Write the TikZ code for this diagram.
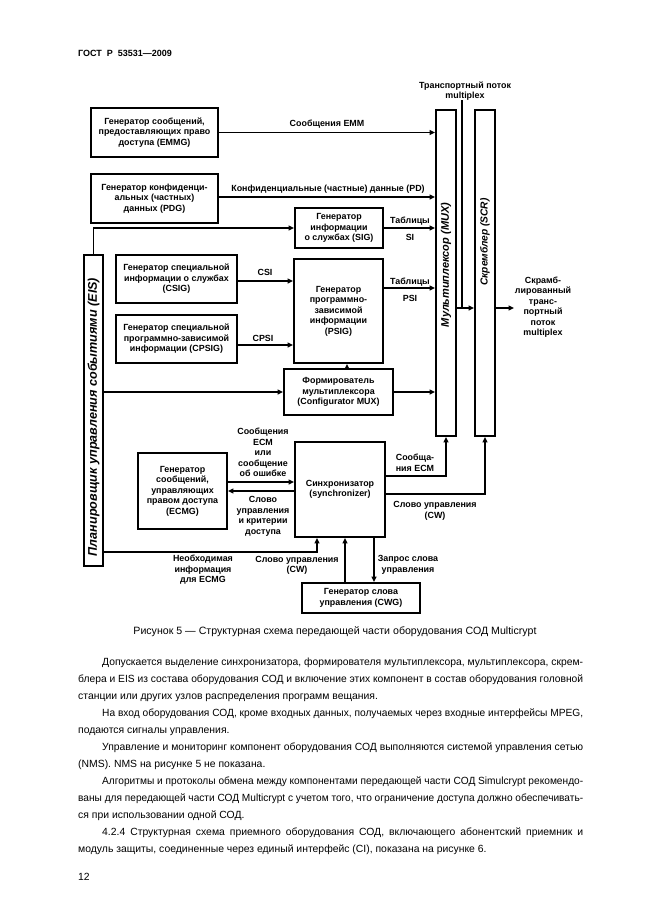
\documentclass[tikz,border=0pt]{standalone}
\usepackage{fontspec}
\setmainfont{Liberation Sans}
\usetikzlibrary{arrows.meta}
\newcommand{\dgmfont}{\fontsize{8.9}{10.5}\selectfont\bfseries}
\newcommand{\rotfont}{\fontsize{11}{12}\selectfont\bfseries\itshape}
\newcommand{\txtfont}{\fontsize{10.4}{17}\selectfont}
\newcommand{\jline}[2]{\sbox0{#2}\ifdim\wd0>#1\relax\resizebox{#1}{\height}{#2}\else\makebox[#1][s]{#2}\fi}
\begin{document}
\begin{tikzpicture}[x=1pt,y=-1pt,
  box/.style={draw,line width=1.9pt,inner sep=0pt,align=center,font=\dgmfont},
  conn/.style={line width=1.6pt},
  arr/.style={conn,-{Triangle[length=5.5pt,width=5pt]}},
  lbl/.style={font=\dgmfont,align=center,inner sep=0pt},
  vtext/.style={font=\rotfont,rotate=90,inner sep=0pt},
  body/.style={anchor=base west,inner sep=0pt,font=\txtfont},
]
\useasboundingbox[fill=white] (0,0) rectangle (646,913);

% header
\node[anchor=base west,inner sep=0pt,font=\fontsize{9}{11}\selectfont\bfseries] (hdr) at (78,56) {ГОСТ\ \ Р\ \ 53531—2009};

% boxes
\node[box,minimum width=127pt,minimum height=49pt] (emmg) at (154.5,132.5) {Генератор сообщений,\\предоставляющих право\\доступа (EMMG)};
\node[box,minimum width=127pt,minimum height=49pt] (pdg) at (154.5,198.5) {Генератор конфиденци-\\альных (частных)\\данных (PDG)};
\node[box,minimum width=88pt,minimum height=40pt] (sig) at (339,228) {Генератор\\информации\\о службах (SIG)};
\node[box,minimum width=89pt,minimum height=104pt] (psig) at (338.5,311) {Генератор\\программно-\\зависимой\\информации\\(PSIG)};
\node[box,minimum width=121pt,minimum height=48pt] (csig) at (176.5,279) {Генератор специальной\\информации о службах\\(CSIG)};
\node[box,minimum width=121pt,minimum height=48pt] (cpsig) at (176.5,339) {Генератор специальной\\программно-зависимой\\информации (CPSIG)};
\node[box,minimum width=109pt,minimum height=46pt] (conf) at (338.5,392) {Формирователь\\мультиплексора\\(Configurator MUX)};
\node[box,minimum width=20pt,minimum height=326pt] (mux) at (446,273) {};
\node[box,minimum width=20pt,minimum height=326pt] (scr) at (485,273) {};
\node[box,minimum width=19pt,minimum height=311pt] (eis) at (93.5,410.5) {};
\node[box,minimum width=90pt,minimum height=95pt] (sync) at (340,489.5) {Синхронизатор\\(synchronizer)};
\node[box,minimum width=118pt,minimum height=30pt] (cwg) at (361,598) {Генератор слова\\управления (CWG)};
\node[box,minimum width=89pt,minimum height=76pt] (ecmg) at (182.5,491) {Генератор\\сообщений,\\управляющих\\правом доступа\\(ECMG)};

% rotated texts
\node[vtext,font=\fontsize{12.6}{13}\selectfont\bfseries\itshape] (eist) at (93.5,417) {Планировщик управления событиями (EIS)};
\node[vtext] (muxt) at (446,265) {Мультиплексор (MUX)};
\node[vtext,font=\fontsize{10.2}{12}\selectfont\bfseries\itshape] (scrt) at (485,242) {Скремблер (SCR)};

% connectors
\draw[arr] (emmg.east) -- (mux.west |- emmg.east);
\draw[arr] (pdg.east |- 0,197) -- (mux.west |- 0,197);
\draw[arr] (eis.north) |- (sig.west);
\draw[arr] (sig.east) -- (mux.west |- sig.east);
\draw[arr] (psig.east |- 0,288) -- (mux.west |- 0,288);
\draw[arr] (csig.east |- 0,281) -- (psig.west |- 0,281);
\draw[arr] (cpsig.east |- 0,345) -- (psig.west |- 0,345);
\draw[arr] (conf.north -| 347,0) -- (psig.south -| 347,0);
\draw[arr] (eis.east |- conf.west) -- (conf.west);
\draw[arr] (conf.east) -- (mux.west |- conf.east);

\coordinate (j) at (462,308);
\coordinate (outp) at (514,308);
\draw[arr] (mux.east |- j) -- (scr.west |- j);
\draw[arr] (scr.east |- j) -- (outp);
\node[lbl,font=\fontsize{8.9}{9.5}\selectfont\bfseries] (tpl) at (465,91) {Транспортный поток\\multiplex};
\draw[conn] (tpl.south -| j) -- (j);

\draw[arr] (sync.east |- 0,476) -| (mux.south);
\draw[arr] (sync.east |- 0,494) -| (scr.south);
\draw[arr] (cwg.north -| 345,0) -- (sync.south -| 345,0);
\draw[arr] (sync.south -| 374,0) -- (cwg.north -| 374,0);
\draw[arr] (eis.east |- 0,552) -| (sync.south -| 317,0);
\draw[arr] (ecmg.east |- 0,482) -- (sync.west |- 0,482);
\draw[arr] (sync.west |- 0,491) -- (ecmg.east |- 0,491);

% labels
\node[lbl] (l1) at (327,124) {Сообщения EMM};
\node[lbl] (l2) at (328,189) {Конфиденциальные (частные) данные (PD)};
\node[lbl] (l3a) at (410,221) {Таблицы};
\node[lbl] (l3b) at (410,237) {SI};
\node[lbl] (l4a) at (410,282) {Таблицы};
\node[lbl] (l4b) at (410,298) {PSI};
\node[lbl] (l5) at (265,272) {CSI};
\node[lbl] (l6) at (263,338) {CPSI};
\node[lbl] (l7) at (543,307) {Скрамб-\\лированный\\транс-\\портный\\поток\\multiplex};
\node[lbl] (l8) at (263,452.5) {Сообщения\\ECM\\или\\сообщение\\об ошибке};
\node[lbl] (l9) at (263,516.5) {Слово\\управления\\и критерии\\доступа};
\node[lbl] (l10) at (415,463) {Сообща-\\ния ECM};
\node[lbl] (l11) at (435,511) {Слово управления\\(CW)};
\node[lbl] (l12) at (408,565) {Запрос слова\\управления};
\node[lbl] (l13) at (203,570) {Необходимая\\информация\\для ECMG};
\node[lbl] (l14) at (297,565.5) {Слово управления\\(CW)};

% caption
\node[anchor=base,inner sep=0pt,font=\fontsize{10.6}{12}\selectfont] (cap) at (335,634.5) {Рисунок 5 — Структурная схема передающей части оборудования СОД Multicrypt};

% body text
\node[body] (t1) at (102,665) {\jline{481pt}{Допускается выделение синхронизатора, формирователя мультиплексора, мультиплексора, скрем-}};
\node[body] (t2) at (78,682) {\jline{505pt}{блера и EIS из состава оборудования СОД и включение этих компонент в состав оборудования головной}};
\node[body] (t3) at (78,699) {станции или других узлов распределения программ вещания.};
\node[body] (t4) at (102,716) {\jline{481pt}{На вход оборудования СОД, кроме входных данных, получаемых через входные интерфейсы MPEG,}};
\node[body] (t5) at (78,733) {подаются сигналы управления.};
\node[body] (t6) at (102,750) {\jline{481pt}{Управление и мониторинг компонент оборудования СОД выполняются системой управления сетью}};
\node[body] (t7) at (78,767) {(NMS). NMS на рисунке 5 не показана.};
\node[body] (t8) at (102,784) {\jline{481pt}{Алгоритмы и протоколы обмена между компонентами передающей части СОД Simulcrypt рекомендо-}};
\node[body] (t9) at (78,801) {\jline{505pt}{ваны для передающей части СОД Multicrypt с учетом того, что ограничение доступа должно обеспечивать-}};
\node[body] (t10) at (78,818) {ся при использовании одной СОД.};
\node[body] (t11) at (102,835) {\jline{481pt}{4.2.4 Структурная схема приемного оборудования СОД, включающего абонентский приемник и}};
\node[body] (t12) at (78,852) {модуль защиты, соединенные через единый интерфейс (CI), показана на рисунке 6.};
\node[body] (pg) at (78,880) {12};
\end{tikzpicture}
\end{document}
